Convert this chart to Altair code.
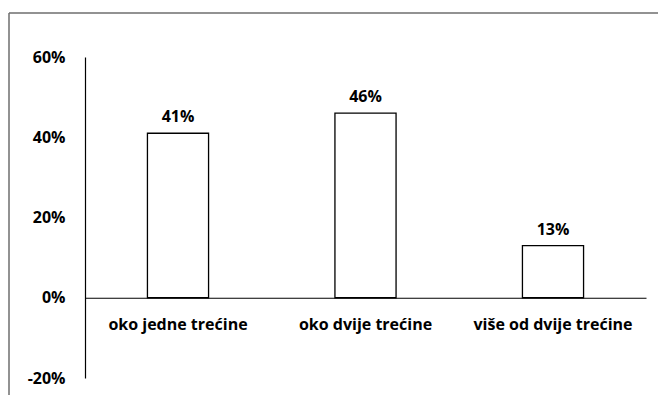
import altair as alt
import pandas as pd

categories = ["oko jedne trećine", "oko dvije trećine", "više od dvije trećine"]
values = [0.41, 0.46, 0.13]
labels = ["41%", "46%", "13%"]
y_ticks = [-0.2, 0.0, 0.2, 0.4, 0.6]

df = pd.DataFrame({"cat": categories, "val": values, "lab": labels})

W, H = 561, 321
FONT = "Open Sans"
FS = 16

x = alt.X("cat:N", sort=categories, title=None,
          scale=alt.Scale(paddingInner=0.674, paddingOuter=0.333),
          axis=alt.Axis(labelAngle=0, ticks=False, domainColor="#000000", domainWidth=1.2,
                        offset=-H / 4, labelPadding=19, labelFont=FONT, labelFontSize=FS,
                        labelFontWeight="bold", labelColor="#000000"))
y = alt.Y("val:Q", title=None,
          scale=alt.Scale(domain=[-0.2, 0.6], nice=False, zero=False),
          axis=alt.Axis(values=y_ticks, grid=False, ticks=False, domainColor="#000000",
                        domainWidth=1.2, labelPadding=20, labelFont=FONT, labelFontSize=FS,
                        labelFontWeight="bold", labelColor="#000000",
                        labelExpr="round(datum.value*100) + '%'"))

base = alt.Chart(df)
bars = base.mark_bar(fill="white", stroke="black", strokeWidth=1.3).encode(x=x, y=y)
texts = base.mark_text(baseline="bottom", dy=-8, font=FONT, fontSize=FS,
                       fontWeight="bold", color="black").encode(
    x=alt.X("cat:N", sort=categories), y=alt.Y("val:Q"), text="lab:N")

one = pd.DataFrame({"a": [0]})
frame_left = alt.Chart(one).mark_rule(color="#6e6e6e", strokeWidth=1.5).encode(
    x=alt.value(-76), x2=alt.value(-76), y=alt.value(-44), y2=alt.value(400))
frame_top = alt.Chart(one).mark_rule(color="#6e6e6e", strokeWidth=1.5).encode(
    x=alt.value(-76), x2=alt.value(580), y=alt.value(-44), y2=alt.value(-44))

chart = alt.layer(bars, texts, frame_left, frame_top).properties(
    width=W, height=H,
    background="white",
    autosize=alt.AutoSizeParams(type="none"),
    padding={"left": 77, "top": 49, "right": 12, "bottom": 17},
).configure_view(strokeWidth=0)

chart.save("out.html", embed_options={"renderer": "svg", "actions": False})
